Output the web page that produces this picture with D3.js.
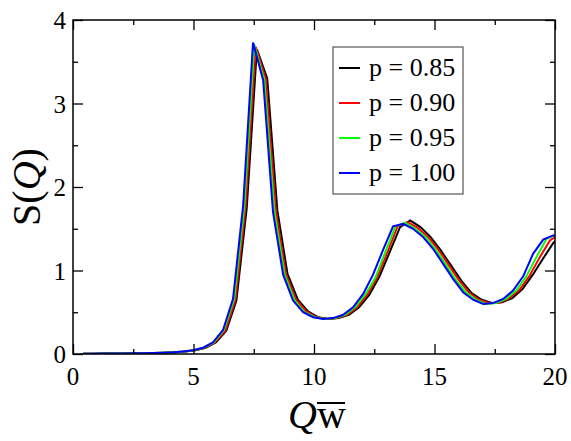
<!DOCTYPE html>
<html>
<head>
<script src="https://cdn.jsdelivr.net/npm/d3@7"></script>
</head>
<body style="margin:0; background:#fff">
<svg width="571" height="441" id="mainsvg"></svg>
<script>
const svg = d3.select('#mainsvg');
const margin = {top: 20, right: 16, bottom: 87, left: 73};
const width = 571, height = 441;
const innerWidth = width - margin.left - margin.right;
const innerHeight = height - margin.top - margin.bottom;
const serif = "'Times New Roman'";

// series labels / colours
const seriesNames = ['p = 0.85', 'p = 0.90', 'p = 0.95', 'p = 1.00'];
const seriesColors = ['#000000', '#ff0000', '#00ff00', '#0000ff'];

// x values of each curve
const qBlack = [0.42,0.85,1.27,1.70,2.12,2.54,2.97,3.39,3.82,4.24,4.66,5.09,5.51,5.94,6.36,6.78,7.21,7.63,8.06,8.48,8.90,9.33,9.75,10.18,10.60,11.02,11.45,11.87,12.30,12.72,13.14,13.57,13.99,14.42,14.84,15.26,15.69,16.11,16.54,16.96,17.38,17.81,18.23,18.66,19.08,19.50,19.93,20.35];
const qRed = [0.42,0.84,1.26,1.68,2.11,2.53,2.95,3.37,3.79,4.21,4.63,5.05,5.47,5.89,6.32,6.74,7.16,7.58,8.00,8.42,8.84,9.26,9.68,10.10,10.53,10.95,11.37,11.79,12.21,12.63,13.05,13.47,13.89,14.31,14.74,15.16,15.58,16.00,16.42,16.84,17.26,17.68,18.11,18.53,18.95,19.37,19.79,20.21];
const qGreen = [0.42,0.84,1.25,1.67,2.09,2.51,2.93,3.34,3.76,4.18,4.60,5.02,5.43,5.85,6.27,6.69,7.11,7.52,7.94,8.36,8.78,9.20,9.61,10.03,10.45,10.87,11.29,11.70,12.12,12.54,12.96,13.38,13.79,14.21,14.63,15.05,15.47,15.88,16.30,16.72,17.14,17.56,17.97,18.39,18.81,19.23,19.65,20.06];
const qBlue = [0.42,0.83,1.25,1.66,2.08,2.49,2.91,3.32,3.74,4.15,4.57,4.98,5.40,5.81,6.23,6.64,7.06,7.47,7.89,8.30,8.72,9.13,9.55,9.96,10.38,10.79,11.21,11.62,12.04,12.45,12.87,13.28,13.70,14.11,14.53,14.94,15.36,15.77,16.19,16.60,17.02,17.43,17.85,18.26,18.68,19.09,19.51,19.92,20.34];

// S(Q) values
const sBlack = [0.003,0.004,0.005,0.006,0.007,0.008,0.010,0.012,0.015,0.020,0.030,0.045,0.075,0.14,0.28,0.64,1.75,3.65,3.30,1.72,0.96,0.65,0.51,0.44,0.42,0.43,0.47,0.56,0.71,0.93,1.22,1.52,1.60,1.52,1.40,1.24,1.06,0.88,0.73,0.65,0.61,0.62,0.67,0.78,0.95,1.14,1.33,1.45];
const sRed = [0.003,0.004,0.005,0.006,0.007,0.008,0.010,0.012,0.015,0.020,0.030,0.045,0.075,0.14,0.28,0.65,1.76,3.68,3.29,1.71,0.95,0.65,0.51,0.44,0.42,0.43,0.47,0.56,0.71,0.92,1.22,1.53,1.58,1.51,1.40,1.25,1.07,0.89,0.74,0.65,0.61,0.61,0.67,0.77,0.94,1.16,1.36,1.44];
const sGreen = [0.003,0.004,0.005,0.006,0.007,0.008,0.010,0.012,0.015,0.020,0.030,0.045,0.075,0.14,0.29,0.66,1.77,3.71,3.28,1.70,0.95,0.64,0.50,0.44,0.42,0.43,0.47,0.56,0.71,0.91,1.22,1.53,1.57,1.50,1.40,1.25,1.07,0.89,0.74,0.65,0.60,0.61,0.66,0.76,0.93,1.16,1.38,1.43];
const sBlue = [0.003,0.004,0.005,0.006,0.007,0.008,0.010,0.012,0.015,0.020,0.030,0.045,0.075,0.14,0.29,0.66,1.78,3.73,3.28,1.70,0.95,0.64,0.50,0.44,0.42,0.43,0.47,0.56,0.72,0.95,1.25,1.53,1.56,1.50,1.40,1.26,1.08,0.90,0.74,0.65,0.60,0.61,0.66,0.76,0.93,1.20,1.37,1.42,1.42];

// ticks
const xMajor = [0, 5, 10, 15, 20];
const xMinor = [2.5, 7.5, 12.5, 17.5];
const yMajor = [0, 1, 2, 3, 4];
const yMinor = [0.5, 1.5, 2.5, 3.5];

const allQ = [qBlack, qRed, qGreen, qBlue];
const allS = [sBlack, sRed, sGreen, sBlue];

const xScale = d3.scaleLinear().domain([0, 20]).range([0, innerWidth]);
const yScale = d3.scaleLinear().domain([0, 4]).range([innerHeight, 0]);

const g = svg.append('g').attr('transform', `translate(${margin.left},${margin.top})`);

// curves (clipped to the plot box)
svg.append('defs').append('clipPath').attr('id', 'plotclip')
  .append('rect').attr('width', innerWidth).attr('height', innerHeight);
const line = d3.line().x(d => xScale(d[0])).y(d => yScale(d[1]));
const curves = g.append('g').attr('clip-path', 'url(#plotclip)');
allQ.forEach((q, i) => {
  curves.append('path')
    .datum(q.map((v, j) => [v, allS[i][j]]))
    .attr('d', line)
    .attr('fill', 'none')
    .attr('stroke', seriesColors[i])
    .attr('stroke-width', 2);
});

// tick marks on all four sides, pointing inward (no labels here)
function tickAxis(sel) {
  sel.select('.domain').remove();
  sel.selectAll('line').attr('stroke', '#000').attr('stroke-width', 1.3);
  sel.selectAll('text').remove();
}
g.append('g').attr('transform', `translate(0,${innerHeight})`)
  .call(d3.axisBottom(xScale).tickValues(xMajor).tickSize(-10)).call(tickAxis);
g.append('g').attr('transform', `translate(0,${innerHeight})`)
  .call(d3.axisBottom(xScale).tickValues(xMinor).tickSize(-5)).call(tickAxis);
g.append('g').call(d3.axisTop(xScale).tickValues(xMajor).tickSize(-10)).call(tickAxis);
g.append('g').call(d3.axisTop(xScale).tickValues(xMinor).tickSize(-5)).call(tickAxis);
g.append('g').call(d3.axisLeft(yScale).tickValues(yMajor).tickSize(-10)).call(tickAxis);
g.append('g').call(d3.axisLeft(yScale).tickValues(yMinor).tickSize(-5)).call(tickAxis);
g.append('g').attr('transform', `translate(${innerWidth},0)`)
  .call(d3.axisRight(yScale).tickValues(yMajor).tickSize(-10)).call(tickAxis);
g.append('g').attr('transform', `translate(${innerWidth},0)`)
  .call(d3.axisRight(yScale).tickValues(yMinor).tickSize(-5)).call(tickAxis);

// tick labels, placed through the scales
xMajor.forEach(v => {
  svg.append('text')
    .attr('x', margin.left + xScale(v))
    .attr('y', margin.top + innerHeight + 31)
    .attr('text-anchor', 'middle')
    .attr('font-size', 25)
    .style('font-family', serif)
    .text(d3.format('d')(v));
});
yMajor.forEach(v => {
  svg.append('text')
    .attr('x', margin.left - 7)
    .attr('y', margin.top + yScale(v) + 9)
    .attr('text-anchor', 'end')
    .attr('font-size', 25)
    .style('font-family', serif)
    .text(d3.format('d')(v));
});

// frame
g.append('rect')
  .attr('width', innerWidth).attr('height', innerHeight)
  .attr('fill', 'none').attr('stroke', '#000').attr('stroke-width', 1.5);

// y axis title
const yTitle = svg.append('text')
  .attr('transform', `translate(40,${margin.top + innerHeight / 2}) rotate(-90)`)
  .attr('text-anchor', 'middle')
  .attr('font-size', 40)
  .style('font-family', serif);
yTitle.append('tspan').text('S(');
yTitle.append('tspan').attr('font-style', 'italic').text('Q');
yTitle.append('tspan').text(')');

// x axis title: italic Q followed by w with an overbar
const xMid = margin.left + innerWidth / 2 + 3;
svg.append('text')
  .attr('x', xMid).attr('y', 428)
  .attr('text-anchor', 'end')
  .attr('font-size', 40)
  .attr('font-style', 'italic')
  .style('font-family', serif)
  .text('Q');
svg.append('text')
  .attr('x', xMid).attr('y', 428)
  .attr('text-anchor', 'start')
  .attr('font-size', 40)
  .style('font-family', serif)
  .text('w');
svg.append('line')
  .attr('x1', xMid).attr('x2', xMid + 28)
  .attr('y1', 403).attr('y2', 403)
  .attr('stroke', '#000').attr('stroke-width', 2);

// legend
const legend = svg.append('g').attr('transform', 'translate(333,47)');
legend.append('rect')
  .attr('width', 130).attr('height', 147)
  .attr('fill', '#fff').attr('stroke', '#555').attr('stroke-width', 1.2);
seriesNames.forEach((name, i) => {
  legend.append('line')
    .attr('x1', 6).attr('x2', 27)
    .attr('y1', 21 + i * 35).attr('y2', 21 + i * 35)
    .attr('stroke', seriesColors[i]).attr('stroke-width', 2);
  legend.append('text')
    .attr('x', 36).attr('y', 29 + i * 35)
    .attr('font-size', 26)
    .style('font-family', serif)
    .text(name);
});
</script>
</body>
</html>
